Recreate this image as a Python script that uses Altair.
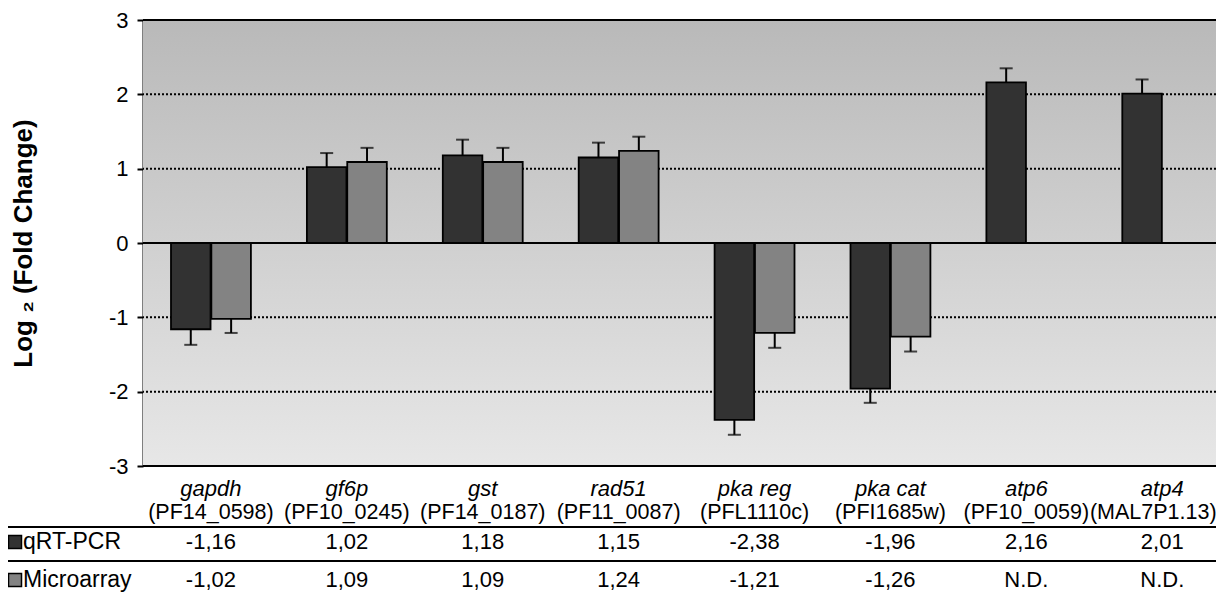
import altair as alt
import pandas as pd

FONT = "Liberation Sans"

# ---------------- data ----------------
genes = ["gapdh", "gf6p", "gst", "rad51", "pka reg", "pka cat", "atp6", "atp4"]
gene_ids = ["(PF14_0598)", "(PF10_0245)", "(PF14_0187)", "(PF11_0087)",
            "(PFL1110c)", "(PFI1685w)", "(PF10_0059)", "(MAL7P1.13)"]
qrt_values = [-1.16, 1.02, 1.18, 1.15, -2.38, -1.96, 2.16, 2.01]
qrt_errors = [0.21, 0.19, 0.21, 0.20, 0.20, 0.19, 0.19, 0.19]
micro_values = [-1.02, 1.09, 1.09, 1.24, -1.21, -1.26, None, None]
micro_errors = [0.19, 0.19, 0.19, 0.19, 0.20, 0.20, None, None]
series_names = ["qRT-PCR", "Microarray"]
series_colors = ["#323232", "#838383"]
y_ticks = [-3, -2, -1, 0, 1, 2, 3]
grid_values = [2, 1, -1, -2]
frame_values = [3, -3]
table_rows = ["gene", "id", "sep1", "qRT", "sep2", "micro"]

# ---------------- tables for the library ----------------
bar_records = []
for g, v, e in zip(genes, qrt_values, qrt_errors):
    bar_records.append(dict(gene=g, series="qRT-PCR", value=v, err=e))
for g, v, e in zip(genes, micro_values, micro_errors):
    if v is not None:
        bar_records.append(dict(gene=g, series="Microarray", value=v, err=e))
bars_df = pd.DataFrame(bar_records)
bars_df["end"] = bars_df["value"] + bars_df["value"].apply(lambda x: 1 if x >= 0 else -1) * bars_df["err"]


def fmt(v):
    return "N.D." if v is None else f"{v:.2f}".replace(".", ",")


gene_df = pd.DataFrame({"gene": genes, "row": "gene"})
id_df = pd.DataFrame({"gene": genes, "gid": gene_ids, "row": "id"})
qrt_df = pd.DataFrame([dict(gene=g, row="qRT", txt=fmt(v)) for g, v in zip(genes, qrt_values)])
mic_df = pd.DataFrame([dict(gene=g, row="micro", txt=fmt(v)) for g, v in zip(genes, micro_values)])
lab_df = pd.DataFrame({"row": ["qRT", "micro"], "series": series_names})
sep_df = pd.DataFrame({"row": ["sep1", "sep2"]})

# ---------------- layout ----------------
PLOT_W = 1073          # visible part of the plot area (cut at the right edge like the reference)
STEP = 135.9           # width of one gene column
PLOT_H = 446

x_scale = alt.Scale(domain=genes, range=[0, 8 * STEP], paddingInner=0.412, paddingOuter=0.206)
x_enc = alt.X("gene:N", sort=genes, scale=x_scale, axis=None)
xoff = alt.XOffset("series:N", sort=series_names,
                   scale=alt.Scale(domain=series_names, paddingInner=0.02))
y_scale = alt.Scale(domain=[-3, 3], nice=False, zero=False)
color_scale = alt.Scale(domain=series_names, range=series_colors)
t_scale = alt.Scale(type="point", domain=table_rows, range=[473, 558], padding=0)

gradient = alt.LinearGradient(
    gradient="linear",
    stops=[alt.GradientStop(color="#b9b9b9", offset=0),
           alt.GradientStop(color="#e7e7e7", offset=1)],
    x1=0, x2=0, y1=0, y2=1,
)

y_axis = alt.Axis(
    values=y_ticks, labelExpr="'' + datum.value", grid=False,
    title="Log ₂ (Fold Change)", titleFontWeight="bold", titleFontSize=26,
    titlePadding=72, titleColor="black",
    labelFontSize=22, labelPadding=9, labelColor="black",
    tickSize=6, tickWidth=2, tickColor="black",
    domainColor="black", domainWidth=2,
)


def yq(field):
    return alt.Y(field, scale=y_scale, axis=y_axis)


bg = alt.Chart(pd.DataFrame({"lo": [-3], "hi": [3]})).mark_rect(fill=gradient).encode(
    x=alt.value(0), x2=alt.value("width"), y=yq("lo:Q"), y2="hi:Q")
grid = alt.Chart(pd.DataFrame({"lo": grid_values})).mark_rule(
    color="black", strokeWidth=2, strokeDash=[2, 2]
).encode(y=yq("lo:Q"))
frame = alt.Chart(pd.DataFrame({"lo": frame_values})).mark_rule(color="black", strokeWidth=2).encode(
    y=yq("lo:Q"))
zero = alt.Chart(pd.DataFrame({"lo": [0]})).mark_rule(color="black", strokeWidth=2).encode(y=yq("lo:Q"))
err_lines = alt.Chart(bars_df).mark_rule(color="black", strokeWidth=2).encode(
    x=x_enc, xOffset=xoff, y=yq("value:Q"), y2="end:Q")
err_caps = alt.Chart(bars_df).mark_tick(color="black", orient="horizontal", size=13, thickness=2).encode(
    x=x_enc, xOffset=xoff, y=yq("end:Q"))
bars = alt.Chart(bars_df).mark_bar(stroke="black", strokeWidth=1.8).encode(
    x=x_enc, xOffset=xoff, y=yq("value:Q"), y2=alt.datum(0),
    color=alt.Color("series:N", scale=color_scale, legend=None),
)

plot = alt.layer(bg, grid, frame, zero, err_lines, bars, err_caps)


def ty():
    return alt.Y("row:N", scale=t_scale, axis=None)


def txt(df, field, dy, size=22, **kw):
    return alt.Chart(df).mark_text(fontSize=size, baseline="middle", dy=dy, color="black", **kw).encode(
        x=x_enc, y=ty(), text=f"{field}:N")


gene_text = txt(gene_df, "gene", -4, fontStyle="italic")
id_text = txt(id_df, "gid", 3, size=21.5).transform_filter(alt.datum.gene != genes[-1])
id_last = txt(id_df, "gid", 3, size=21.5, dx=-9).transform_filter(alt.datum.gene == genes[-1])
qrt_text = txt(qrt_df, "txt", -2)
mic_text = txt(mic_df, "txt", 2)


def label(row, dy):
    base = alt.Chart(lab_df).transform_filter(alt.datum.row == row)
    sq = base.mark_square(size=169, stroke="black", strokeWidth=1.5, opacity=1, yOffset=dy).encode(
        x=alt.value(-128), y=ty(), fill=alt.Fill("series:N", scale=color_scale, legend=None))
    tx = base.mark_text(fontSize=23, baseline="middle", align="left", color="black", dy=dy).encode(
        x=alt.value(-120), y=ty(), text="series:N")
    return [sq, tx]


seps = alt.Chart(sep_df).mark_rule(color="black", strokeWidth=2).encode(
    x=alt.value(-135), x2=alt.value("width"), y=ty())

table = alt.layer(seps, gene_text, id_text, id_last, qrt_text, mic_text,
                  *label("qRT", -2), *label("micro", 2))

chart = (
    alt.layer(plot, table)
    .resolve_scale(y="independent")
    .properties(width=PLOT_W, height=PLOT_H,
                autosize=alt.AutoSizeParams(type="none"),
                padding={"left": 135, "top": 12, "right": 0, "bottom": 136})
    .configure_view(stroke=None)
    .configure(font=FONT)
)

chart.save("out.html", embed_options={"renderer": "svg", "actions": False})
